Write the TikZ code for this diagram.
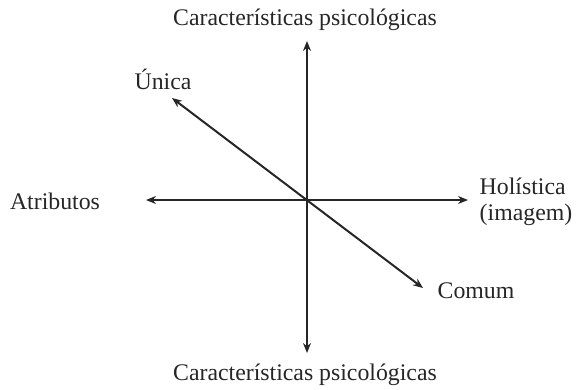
\documentclass[tikz,border=0pt]{standalone}
\usepackage{fontspec}
\setmainfont{Liberation Serif}
\usetikzlibrary{arrows.meta}
\begin{document}
\begin{tikzpicture}[x=1pt,y=-1pt,
  axis/.style={line width=2pt,draw={black!85},{Stealth[length=10pt,width=8pt]}-{Stealth[length=10pt,width=8pt]}},
  lbl/.style={font=\fontsize{23.8}{27}\selectfont,inner sep=0pt,text={black!85}}]
\useasboundingbox (0,0) rectangle (578,389);
\coordinate (o) at (307,200);
\coordinate (top) at (307,41);
\coordinate (bot) at (307,353);
\coordinate (left) at (146,200);
\coordinate (right) at (468,200);
\coordinate (ul) at (172,98);
\coordinate (lr) at (423,288);
\draw[axis] (top) -- (bot);
\draw[axis] (left) -- (right);
\draw[axis] (ul) -- (lr);
\node[lbl] (tl) at (305,20) {Características psicológicas};
\node[lbl] (bl) at (305,375) {Características psicológicas};
\node[lbl] (un) at (163,79) {Única};
\node[lbl] (co) at (476,291) {Comum};
\node[lbl] (at) at (55,201) {Atributos};
\node[lbl,align=left] (ho) at (526,202) {Holística\\[-1pt](imagem)};
\end{tikzpicture}
\end{document}
